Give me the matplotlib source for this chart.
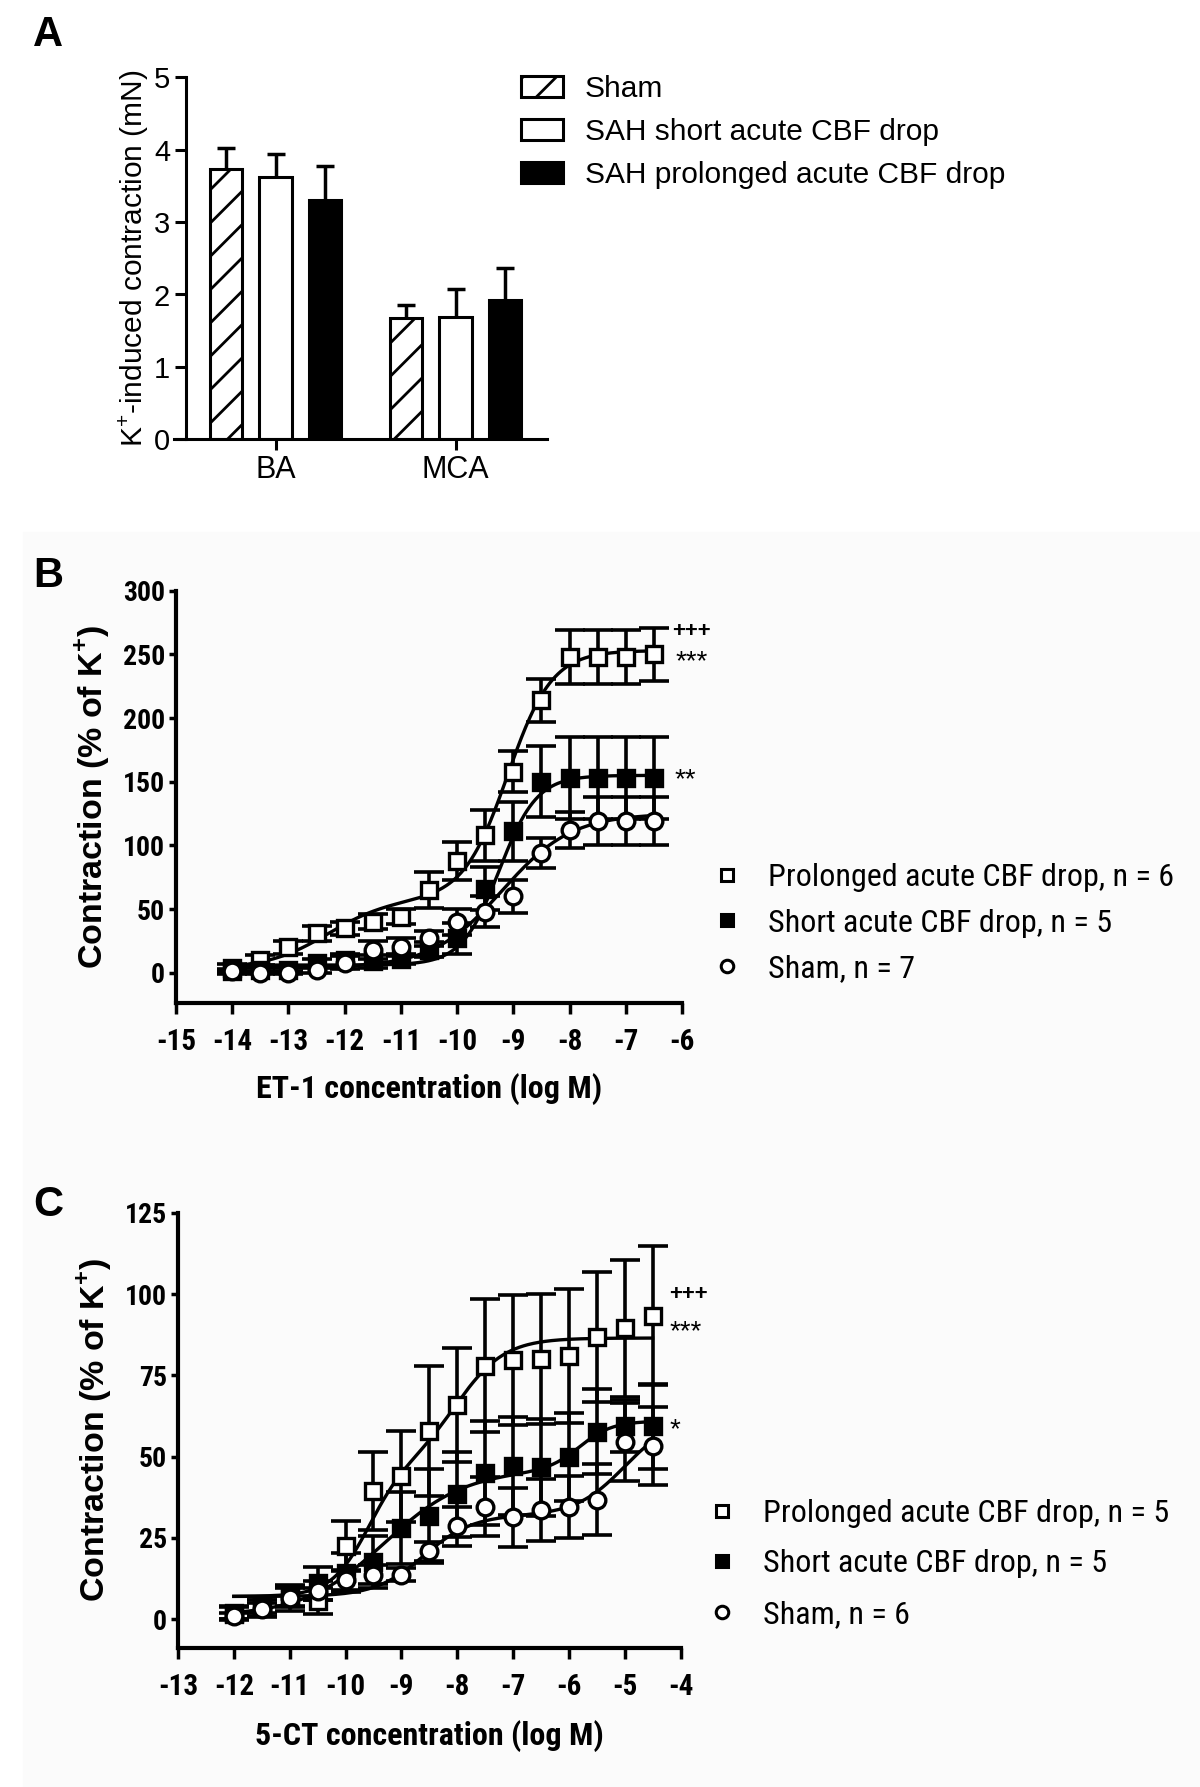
import numpy as np
import matplotlib.pyplot as plt
from matplotlib.lines import Line2D

plt.rcParams['mathtext.fontset'] = 'custom'
plt.rcParams['mathtext.rm'] = 'Liberation Sans'
plt.rcParams['mathtext.bf'] = 'Liberation Sans:bold'
plt.rcParams['hatch.linewidth'] = 2.0

REG = ['Liberation Sans', 'DejaVu Sans']
NARROW = ['Roboto Condensed', 'Liberation Sans Narrow', 'Roboto', 'DejaVu Sans']

# ---------------- panel A : K+ contraction ----------------
vessels = ['BA', 'MCA']
sham_k = [3.74, 1.67]
sham_k_err = [0.29, 0.19]
short_k = [3.62, 1.69]
short_k_err = [0.32, 0.38]
prol_k = [3.30, 1.93]
prol_k_err = [0.48, 0.43]

# ---------------- panel B : ET-1 ----------------
et1_logc = [-14.0, -13.5, -13.0, -12.5, -12.0, -11.5, -11.0, -10.5,
            -10.0, -9.5, -9.0, -8.5, -8.0, -7.5, -7.0, -6.5]
et1_prol = [4, 10, 20, 31, 35, 40, 44, 65, 88, 108, 158, 214, 248, 248, 248, 250]
et1_prol_err = [3, 4, 5, 6, 5, 6, 6, 14, 15, 20, 16, 17, 21, 21, 21, 21]
et1_short = [1, 2, 2, 8, 10, 9, 11, 18, 27, 66, 111, 150, 153, 153, 153, 153]
et1_short_err = [2, 2, 2, 3, 5, 5, 4, 6, 12, 17, 23, 28, 32, 32, 32, 32]
et1_sham = [1, 0, 0, 2, 8, 18, 20, 27, 40, 48, 60, 94, 112, 119, 119, 119]
et1_sham_err = [1, 1, 1, 2, 5, 7, 7, 6, 10, 12, 13, 12, 14, 19, 19, 19]
# fitted curve parameters: bottom, span1, logEC50_1, hill1, span2, logEC50_2, hill2
et1_prol_fit = [3, 55, -12.3, 0.8, 195, -9.1, 1.1]
et1_short_fit = [6, 149, -9.25, 1.3, 0, -9.0, 1.0]
et1_sham_fit = [4, 121, -9.2, 0.7, 0, -9.0, 1.0]

# ---------------- panel C : 5-CT ----------------
ct_logc = [-12.0, -11.5, -11.0, -10.5, -10.0, -9.5, -9.0, -8.5,
           -8.0, -7.5, -7.0, -6.5, -6.0, -5.5, -5.0, -4.5]
ct_prol = [2, 4, 7, 5.5, 22.5, 39.5, 44, 58, 66, 78, 79.6, 80, 81, 86.8, 89.5, 93.4]
ct_prol_err = [2, 2, 3, 4, 7.7, 12, 14, 20, 17.5, 20.5, 20, 20, 20.6, 20, 21, 21.4]
ct_short = [1.6, 3.8, 6.6, 11, 14.3, 17.6, 28, 31.8, 38.4, 45, 47.2, 46.7, 50, 57.7, 59.3, 59.3]
ct_short_err = [2, 3, 4, 5, 6, 8, 11, 14.5, 13, 16, 15, 15, 13.5, 13, 8, 13]
ct_sham = [1, 3, 6.6, 8.8, 12, 13.7, 13.7, 20.9, 28.6, 34.6, 31.3, 33.5, 34.6, 36.8, 54.4, 53.3]
ct_sham_err = [1, 2, 3, 3, 3, 3, 2, 3, 6, 9, 9, 9.5, 9.5, 11, 12, 12]
ct_prol_fit = [7, 40, -9.6, 1.3, 39.5, -8.0, 1.0]
ct_short_fit = [1, 45, -9.3, 0.6, 15, -5.8, 1.5]
ct_sham_fit = [7, 25, -8.6, 1.0, 30, -5.0, 1.0]


def two_site(x, p):
    b, a1, c1, h1, a2, c2, h2 = p
    return (b + a1 / (1 + 10 ** (h1 * (c1 - x)))
            + a2 / (1 + 10 ** (h2 * (c2 - x))))


W, H = 1200, 1787
fig = plt.figure(figsize=(W / 100, H / 100), dpi=100)
fig.patch.set_facecolor('white')


def px_axes(left, top, right, bottom):
    return fig.add_axes([left / W, 1 - bottom / H, (right - left) / W, (bottom - top) / H])


# very faint grey behind the concentration-response panels
fig.patches.append(plt.Rectangle((23 / W, 0), 1 - 23 / W, 1 - 532 / H,
                                 transform=fig.transFigure, color='#fbfbfb', zorder=-10))

# ======== A ========
axA = px_axes(174, 77.3, 547, 439.3)
x = np.arange(len(vessels))
off, bw = 0.274, 0.18
err_kw = dict(fmt='none', ecolor='black', elinewidth=2.5, capsize=6.5, capthick=2.5, zorder=1)
axA.errorbar(x - off, sham_k, yerr=sham_k_err, **err_kw)
axA.errorbar(x, short_k, yerr=short_k_err, **err_kw)
axA.errorbar(x + off, prol_k, yerr=prol_k_err, **err_kw)
b1 = axA.bar(x - off, sham_k, bw, color='white', edgecolor='black', hatch='/', linewidth=2.2, zorder=2)
b2 = axA.bar(x, short_k, bw, color='white', edgecolor='black', linewidth=2.2, zorder=2)
b3 = axA.bar(x + off, prol_k, bw, color='black', edgecolor='black', linewidth=2.2, zorder=2)
axA.set_xlim(-0.564, 1.508)
axA.set_ylim(0, 5)
axA.spines['left'].set_position(('data', -0.5))
for s in ['top', 'right']:
    axA.spines[s].set_visible(False)
for s in ['left', 'bottom']:
    axA.spines[s].set_linewidth(2.2)
axA.set_xticks(x)
axA.set_xticklabels(vessels, family=REG, fontsize=22)
axA.set_yticks([0, 1, 2, 3, 4, 5])
axA.set_yticklabels(['0', '1', '2', '3', '4', '5'], family=REG, fontsize=21)
axA.tick_params(axis='both', width=2.2, length=8, pad=3)
axA.set_ylabel(r'K$^{+}$-induced contraction (mN)', family=REG, fontsize=21.5, labelpad=2)
axA.patch.set_alpha(0)
fig.legend([b1, b2, b3], ['Sham', 'SAH short acute CBF drop', 'SAH prolonged acute CBF drop'],
           loc='upper left', bbox_to_anchor=(521 / W, 1 - 75 / H), frameon=False,
           prop={'family': REG, 'size': 21.5}, handlelength=1.42, handleheight=0.74,
           handletextpad=0.72, labelspacing=0.5, borderpad=0, borderaxespad=0)


# ======== B and C ========
def dose_panel(rect, logc, series, errs, fits, xlim, ylim, yticks, xticks, xlabel, labels,
               leg_anchor, marks, xlabelpad):
    ax = px_axes(*rect)
    styles = [dict(marker='s', mfc='white'), dict(marker='s', mfc='black'), dict(marker='o', mfc='white')]
    for yv, ev in zip(series, errs):
        ax.errorbar(logc, yv, yerr=ev, fmt='none', ecolor='black', elinewidth=2.6,
                    capsize=10.5, capthick=2.6, zorder=2)
    xx = np.linspace(logc[0], logc[-1], 300)
    for p in fits:
        ax.plot(xx, two_site(xx, p), color='black', lw=2.4, zorder=3)
    handles = []
    for yv, st in zip(series, styles):
        ax.plot(logc, yv, ls='none', marker=st['marker'], ms=12, mfc=st['mfc'], mec='black', mew=2.4, zorder=4)
        handles.append(Line2D([], [], ls='none', marker=st['marker'], ms=9, mfc=st['mfc'], mec='black', mew=2.2))
    ax.set_xlim(*xlim)
    ax.set_ylim(*ylim)
    for s in ['top', 'right']:
        ax.spines[s].set_visible(False)
    for s in ['left', 'bottom']:
        ax.spines[s].set_linewidth(3)
    ax.set_xticks(xticks)
    ax.set_xticklabels([str(t) for t in xticks], family=NARROW, fontsize=21, fontweight='bold')
    ax.set_yticks(yticks)
    ax.set_yticklabels([str(t) for t in yticks], family=NARROW, fontsize=20, fontweight='bold')
    ax.tick_params(axis='y', width=2.5, length=5, pad=3)
    ax.tick_params(axis='x', width=2.5, length=8, pad=10)
    ax.set_xlabel(xlabel, family=NARROW, fontsize=23, fontweight='bold', labelpad=xlabelpad)
    ax.set_ylabel(r'Contraction (% of K$^{\mathbf{+}}$)', family=REG, fontsize=24.5,
                  fontweight='bold', labelpad=8)
    ax.patch.set_alpha(0)
    fig.legend(handles, labels, loc='upper left', bbox_to_anchor=(leg_anchor[0] / W, 1 - leg_anchor[1] / H),
               frameon=False, prop={'family': NARROW, 'size': 23}, handlelength=0.8,
               handletextpad=0.9, labelspacing=leg_anchor[2], borderpad=0, borderaxespad=0)
    for (tx, ty, s, fw, fs) in marks:
        ax.text(tx, ty, s, family=REG, fontsize=fs, fontweight=fw, ha='left', va='center')
    return ax


dose_panel((176, 590.7, 682, 1003.3), et1_logc, [et1_prol, et1_short, et1_sham],
           [et1_prol_err, et1_short_err, et1_sham_err], [et1_prol_fit, et1_short_fit, et1_sham_fit],
           (-15, -6), (-24, 300), [0, 50, 100, 150, 200, 250, 300],
           [-15, -14, -13, -12, -11, -10, -9, -8, -7, -6], 'ET-1 concentration (log M)',
           ['Prolonged acute CBF drop, n = 6', 'Short acute CBF drop, n = 5', 'Sham, n = 7'],
           (714, 863, 0.52), [(-6.17, 268, '+++', 'bold', 16), (-6.12, 243.5, '***', 'normal', 20),
                              (-6.14, 151.5, '**', 'normal', 20)], 12)

dose_panel((178, 1212.9, 680.5, 1647.8), ct_logc, [ct_prol, ct_short, ct_sham],
           [ct_prol_err, ct_short_err, ct_sham_err], [ct_prol_fit, ct_short_fit, ct_sham_fit],
           (-13, -4), (-8.8, 125), [0, 25, 50, 75, 100, 125],
           [-13, -12, -11, -10, -9, -8, -7, -6, -5, -4], '5-CT concentration (log M)',
           ['Prolonged acute CBF drop, n = 5', 'Short acute CBF drop, n = 5', 'Sham, n = 6'],
           (709, 1499, 0.67), [(-4.2, 99.8, '+++', 'bold', 16), (-4.2, 88.4, '***', 'normal', 20),
                               (-4.2, 58, '*', 'normal', 20)], 14)

for lab, yy in [('A', 15), ('B', 556), ('C', 1185)]:
    fig.text(33 / W, 1 - yy / H, lab, family=REG, fontsize=30, fontweight='bold', va='top', ha='left')

fig.savefig('out.png', dpi=100)
